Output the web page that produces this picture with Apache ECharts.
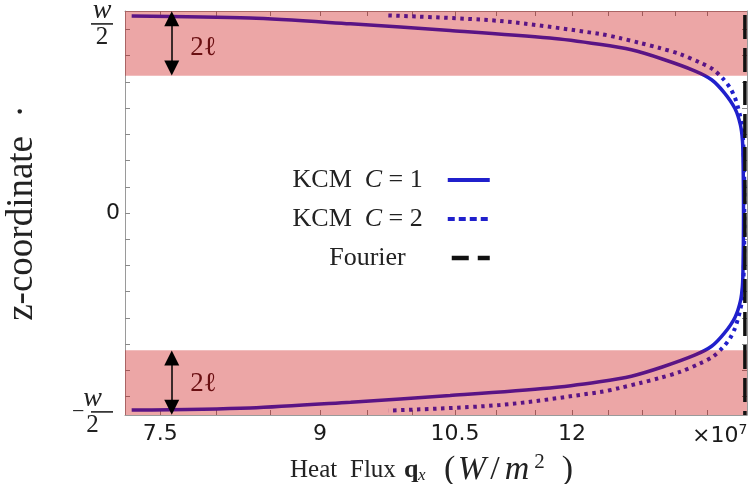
<!DOCTYPE html>
<html><head><meta charset="utf-8">
<script src="https://cdn.jsdelivr.net/npm/echarts@6/dist/echarts.min.js"></script>
<style>html,body{margin:0;padding:0;background:#fff}#c{width:750px;height:484px}</style>
</head><body><div id="c"></div>
<script>
// ---- data (heat flux in units of 1e7 W/m^2, z with w/2 = 7.5) ----
const zC1 = [7.51, 7.43, 7.21, 6.96, 6.67, 6.43, 6.22, 5.87, 5.42, 5.08, 4.57, 3.98, 3.36, 2.74, 1.90, 0.95, 0,
             -0.95, -1.90, -2.74, -3.36, -3.98, -4.57, -5.08, -5.42, -5.87, -6.22, -6.43, -6.67, -6.96, -7.21, -7.43, -7.51];
const qC1 = [7.26, 8.31, 9.32, 10.44, 11.70, 12.38, 12.84, 13.30, 13.80, 14.07, 14.28, 14.45, 14.54, 14.575, 14.585, 14.59, 14.592,
             14.59, 14.585, 14.575, 14.54, 14.45, 14.28, 14.07, 13.80, 13.30, 12.84, 12.38, 11.70, 10.44, 9.32, 8.31, 7.26];
const zC2 = [7.53, 7.32, 6.83, 6.67, 6.48, 6.29, 6.06, 5.74, 5.48, 5.13, 4.77, 4.39, 4.03, 3.76, 3.35, 2.85, 1.90, 0,
             -1.90, -2.85, -3.35, -3.76, -4.03, -4.39, -4.77, -5.13, -5.48, -5.74, -6.06, -6.29, -6.48, -6.67, -6.83, -7.32, -7.53];
const qC2 = [9.73, 11.05, 12.38, 12.67, 12.97, 13.26, 13.57, 13.88, 14.09, 14.25, 14.37, 14.45, 14.50, 14.53, 14.566, 14.583, 14.60, 14.605,
             14.60, 14.583, 14.566, 14.53, 14.50, 14.45, 14.37, 14.25, 14.09, 13.88, 13.57, 13.26, 12.97, 12.67, 12.38, 11.05, 9.73];
const qFourier = 14.615;
const zRange = [-7.7, 7.7];
const qRange = [7.205, 14.65];
const qTicks = [7.5, 8, 8.5, 9, 9.5, 10, 10.5, 11, 11.5, 12, 12.5, 13, 13.5, 14];
const qTickLabels = [7.5, 9, 10.5, 12];
const qScaleLabelAt = 14.2;
const zTicks = [-7, -6, -5, -4, -3, -2, -1, 0, 1, 2, 3, 4, 5, 6, 7];
const zLabelTop = 7.17, zLabelZero = 0, zLabelBottom = -7.62;
const bandEdge = 5.23;
const arrowQ = 7.6;
const ellLabelQ = 7.88;
const ellLabelZ = [6.3, -6.5];
const legendNames = ['KCM C = 1', 'KCM C = 2', 'Fourier'];

const SERIF = 'Liberation Serif';
const BLUE = '#2020cc';
const pair = (q, z) => q.map((v, i) => [v, z[i]]);

const chart = echarts.init(document.getElementById('c'), null, {renderer: 'canvas'});

const tickStyle = {color: '#8a8a8a', width: 1};
const axisLineStyle = {color: '#9a9a9a', width: 1};
const TXT = '#222';

const option = {
  animation: false,
  backgroundColor: '#fff',
  grid: {left: 125, right: 3, top: 11, bottom: 69, show: false, containLabel: false, outerBoundsMode: 'none'},
  legend: {
    orient: 'vertical', align: 'right', right: 253, top: 162,
    itemWidth: 42, itemHeight: 14, itemGap: 13,
    selectedMode: false,
    itemStyle: {opacity: 0},
    data: [
      {name: legendNames[0], itemStyle: {opacity: 0}, lineStyle: {color: BLUE, width: 4, type: 'solid'}},
      {name: legendNames[1], itemStyle: {opacity: 0}, lineStyle: {color: BLUE, width: 4, type: [7, 4]}},
      {name: legendNames[2], itemStyle: {opacity: 0}, lineStyle: {color: '#111', width: 4.5, type: [17, 9]}}
    ],
    formatter: function (n) {
      if (n === 'Fourier') return '{t|Fourier}{sp2| }';
      const c = n.slice(-1);
      return '{t|KCM  }{i|C}{t| = ' + c + '}{sp| }';
    },
    textStyle: {
      color: TXT,
      rich: {
        t: {fontFamily: SERIF, fontSize: 26, lineHeight: 28, color: TXT},
        i: {fontFamily: SERIF, fontStyle: 'italic', fontSize: 26, lineHeight: 28, color: TXT},
        sp: {width: 20, fontSize: 10},
        sp2: {width: 37, fontSize: 10}
      }
    }
  },
  xAxis: [{
    type: 'log', min: qRange[0], max: qRange[1], position: 'bottom', gridIndex: 0,
    axisLine: {show: true, onZero: false, lineStyle: axisLineStyle},
    axisTick: {show: true, inside: true, length: 5, customValues: qTicks, lineStyle: tickStyle},
    minorTick: {show: false},
    splitLine: {show: false},
    axisLabel: {
      show: true, margin: 8, customValues: qTickLabels.concat([qScaleLabelAt]),
      fontFamily: 'DejaVu Sans', fontSize: 22, color: '#1a1a1a',
      formatter: function (v) {
        if (Math.abs(v - qScaleLabelAt) < 0.01) return '{n|×10}{sup|7}';
        return String(Math.round(v * 10) / 10);
      },
      rich: {
        n: {fontFamily: 'DejaVu Sans', fontSize: 22, color: '#1a1a1a'},
        sup: {fontFamily: 'DejaVu Sans', fontSize: 14, color: '#1a1a1a', padding: [0, 0, 12, 0]}
      }
    },
    name: '{h|Heat}{f|Flux}{b|q}{s|x}{p|(}{i|W}{sl|/}{j|m}{u|2}{g2| }{p|)}{g| }',
    nameLocation: 'middle', nameGap: 27,
    nameTextStyle: {
      rich: {
        h: {fontFamily: SERIF, fontSize: 25, color: TXT, width: 60, align: 'left'},
        f: {fontFamily: SERIF, fontSize: 25, color: TXT, width: 54, align: 'left'},
        b: {fontFamily: SERIF, fontSize: 26, fontWeight: 'bold', color: TXT, width: 14, align: 'left'},
        s: {fontFamily: SERIF, fontSize: 17, fontStyle: 'italic', color: TXT, padding: [10, 0, 0, 0], width: 26, align: 'left'},
        p: {fontFamily: SERIF, fontSize: 34, color: TXT, width: 11, align: 'left'},
        i: {fontFamily: SERIF, fontSize: 34, fontStyle: 'italic', color: TXT, width: 34, align: 'center'},
        sl: {fontFamily: SERIF, fontSize: 34, color: TXT, width: 12, align: 'center'},
        j: {fontFamily: SERIF, fontSize: 34, fontStyle: 'italic', color: TXT, width: 32, align: 'center'},
        u: {fontFamily: SERIF, fontSize: 21, color: TXT, padding: [0, 0, 16, 0], width: 13, align: 'left'},
        g2: {width: 16, fontSize: 8},
        g: {width: 9, fontSize: 8}
      }
    }
  }, {
    type: 'log', min: qRange[0], max: qRange[1], position: 'top', gridIndex: 0,
    axisLine: {show: true, onZero: false, lineStyle: axisLineStyle},
    axisTick: {show: true, inside: true, length: 5, customValues: qTicks, lineStyle: tickStyle},
    axisLabel: {show: false}, splitLine: {show: false}, minorTick: {show: false}
  }],
  yAxis: [{
    type: 'value', min: zRange[0], max: zRange[1], position: 'left',
    axisLine: {show: true, onZero: false, lineStyle: axisLineStyle},
    axisTick: {show: true, inside: true, length: 5, customValues: zTicks, lineStyle: tickStyle},
    splitLine: {show: false},
    axisLabel: {
      show: true, margin: 5, customValues: [zLabelBottom, zLabelZero, zLabelTop],
      formatter: function (v) {
        if (Math.abs(v) < 0.01) return '{z|0}';
        if (v > 0) return '{w|w}{p| }\n{bar| }{p| }\n{d|2}{p| }';
        return '{w|w}{p| }\n{m|−}{bar| }{p| }\n{d|2}{p| }';
      },
      rich: {
        z: {fontFamily: 'DejaVu Sans', fontSize: 22, color: '#1a1a1a'},
        w: {fontFamily: SERIF, fontStyle: 'italic', fontSize: 28, width: 22, align: 'center', lineHeight: 18, color: TXT},
        d: {fontFamily: SERIF, fontSize: 25, width: 22, align: 'center', lineHeight: 20, color: TXT},
        bar: {width: 22, height: 1.6, fontSize: 2, lineHeight: 8, backgroundColor: TXT},
        m: {fontFamily: SERIF, fontSize: 22, width: 19, align: 'left', lineHeight: 8, color: TXT},
        p: {width: 7, fontSize: 8}
      }
    },
    name: 'z-coordinate  ·', nameLocation: 'middle', nameGap: 84, nameRotate: 90,
    nameTextStyle: {fontFamily: SERIF, fontSize: 37, color: TXT}
  }, {
    type: 'value', min: zRange[0], max: zRange[1], position: 'right',
    axisLine: {show: true, onZero: false, lineStyle: axisLineStyle},
    axisTick: {show: true, inside: true, length: 5, customValues: zTicks, lineStyle: tickStyle},
    axisLabel: {show: false}, splitLine: {show: false}
  }],
  series: [
    {
      name: legendNames[0], type: 'line', xAxisIndex: 0, yAxisIndex: 0, z: 2,
      data: pair(qC1, zC1), showSymbol: false, symbol: 'none', smooth: 0.3,
      lineStyle: {color: BLUE, width: 3.5, type: 'solid'}, itemStyle: {color: BLUE}
    },
    {
      name: legendNames[1], type: 'line', xAxisIndex: 0, yAxisIndex: 0, z: 2,
      data: pair(qC2, zC2), showSymbol: false, symbol: 'none', smooth: 0.3,
      lineStyle: {color: BLUE, width: 4, type: [3.5, 4.5], cap: 'butt'}, itemStyle: {color: BLUE}
    },
    {
      name: legendNames[2], type: 'line', xAxisIndex: 0, yAxisIndex: 0, z: 11,
      data: [[qFourier, zRange[1]], [qFourier, zRange[0]]], showSymbol: false, symbol: 'none',
      lineStyle: {color: '#111', width: 3.5, type: [24, 9], dashOffset: -4}, itemStyle: {color: '#111'}
    },
    {
      name: 'bands', type: 'line', data: [], z: 10, silent: true,
      markArea: {
        silent: true, z: 10,
        itemStyle: {color: 'rgba(200,0,0,0.35)'},
        data: [
          [{yAxis: bandEdge}, {yAxis: zRange[1]}],
          [{yAxis: zRange[0]}, {yAxis: -bandEdge}]
        ]
      }
    },
    {
      name: 'annot', type: 'line', data: [], z: 12, silent: true,
      markLine: {
        silent: true, animation: false, z: 12,
        symbol: ['triangle', 'triangle'], symbolSize: 15,
        lineStyle: {color: '#000', width: 1.5, type: 'solid'},
        itemStyle: {color: '#000'},
        label: {show: false},
        data: [
          [{coord: [arrowQ, bandEdge + 0.3]}, {coord: [arrowQ, zRange[1] - 0.3]}],
          [{coord: [arrowQ, -bandEdge - 0.3]}, {coord: [arrowQ, zRange[0] + 0.3]}]
        ]
      },
      markPoint: {
        silent: true, z: 12, symbol: 'circle', symbolSize: 1, itemStyle: {color: 'rgba(0,0,0,0)'},
        label: {show: true, position: 'inside', formatter: '2ℓ', fontFamily: SERIF, fontSize: 27, color: '#6a0f12'},
        data: [{coord: [ellLabelQ, ellLabelZ[0]]}, {coord: [ellLabelQ, ellLabelZ[1]]}]
      }
    }
  ]
};
chart.setOption(option);
</script>
</body></html>
